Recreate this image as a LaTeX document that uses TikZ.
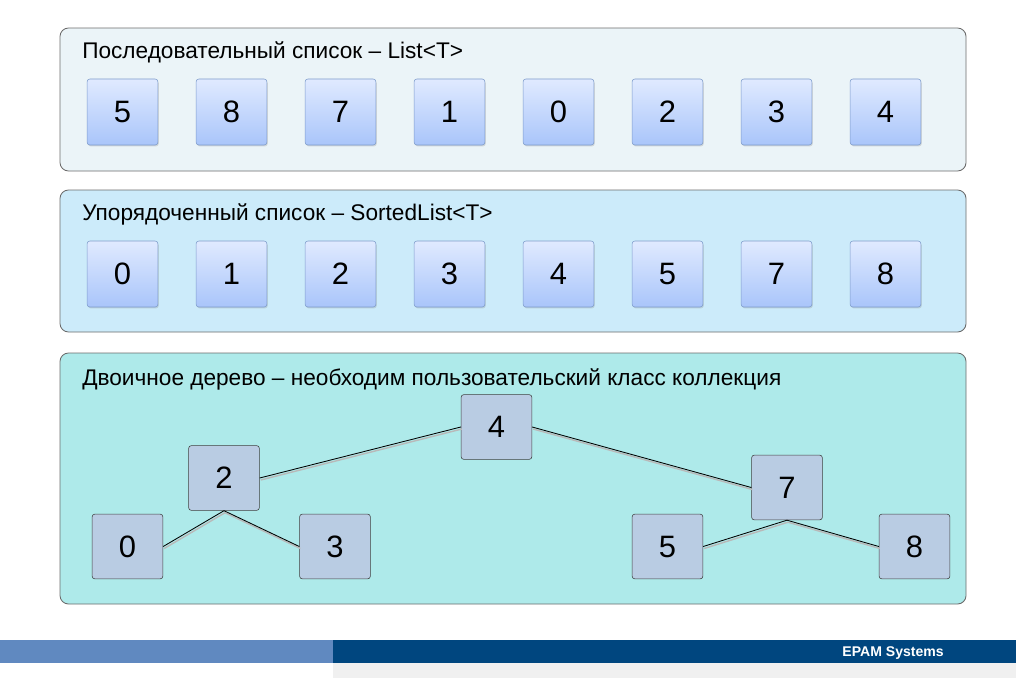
\documentclass[tikz,border=0pt]{standalone}
\usepackage{fontspec}
\setmainfont{Liberation Sans}
\usetikzlibrary{shadows}
\definecolor{panelA}{HTML}{EBF4F8}
\definecolor{panelB}{HTML}{CCEBFA}
\definecolor{panelC}{HTML}{AEEAEA}
\definecolor{cellTop}{HTML}{E0EAFF}
\definecolor{cellBot}{HTML}{A9C5FA}
\definecolor{cellLine}{HTML}{7E9CCB}
\definecolor{treeFill}{HTML}{B9CCE3}
\definecolor{barLight}{HTML}{6089C0}
\definecolor{barDark}{HTML}{00467F}
\tikzset{
  panel/.style={draw=gray!85!black,rounded corners=6pt,line width=0.6pt},
  title/.style={anchor=base west,inner sep=0pt,font=\fontsize{16.1}{19}\selectfont},
  cell/.style={draw=cellLine,rounded corners=2pt,top color=cellTop,bottom color=cellBot,
    minimum width=1.77cm,minimum height=1.65cm,font=\fontsize{22}{24}\selectfont,
    drop shadow={shadow xshift=0.6pt,shadow yshift=-1pt,opacity=0.25}},
  leaf/.style={draw=black!75,fill=treeFill,rounded corners=2pt,
    minimum width=1.77cm,minimum height=1.62cm,font=\fontsize{22}{24}\selectfont},
  edge/.style={line width=0.6pt,
    preaction={draw,gray!55,line width=1pt,transform canvas={shift={(1,2)}}}}
}
\begin{document}
\begin{tikzpicture}[x=0.025cm,y=-0.025cm]
\useasboundingbox (0,0) rectangle (1016,678);
\fill[white] (0,0) rectangle (1016,678);

\draw[panel,fill=panelA] (60,28) rectangle (966,171);
\draw[panel,fill=panelB] (60,190) rectangle (966,332);
\draw[panel,fill=panelC] (60,353) rectangle (966,604);

\node[title] (Ttl1) at (82,58) {Последовательный список – List<T>};
\node[title] (Ttl2) at (82,220) {Упорядоченный список – SortedList<T>};
\node[title] (Ttl3) at (82,385) {Двоичное дерево – необходим пользовательский класс коллекция};

\foreach \v [count=\i] in {5,8,7,1,0,2,3,4}
  \node[cell] (L\i) at (122.5+109*\i-109,112) {\v};
\foreach \v [count=\i] in {0,1,2,3,4,5,7,8}
  \node[cell] (S\i) at (122.5+109*\i-109,274) {\v};

\node[leaf] (T4) at (496.5,427) {4};
\node[leaf] (T2) at (224,478) {2};
\node[leaf] (T7) at (787,487.5) {7};
\node[leaf] (T0) at (127.5,546.5) {0};
\node[leaf] (T3) at (335,546.5) {3};
\node[leaf] (T5) at (667.5,546.5) {5};
\node[leaf] (T8) at (914.5,546.5) {8};
\draw[edge] (T2.east) -- (T4.west);
\draw[edge] (T4.east) -- (T7.west);
\draw[edge] (T2.south) -- (T0.east);
\draw[edge] (T2.south) -- (T3.west);
\draw[edge] (T7.south) -- (T5.east);
\draw[edge] (T7.south) -- (T8.west);

\fill[barLight] (0,640) rectangle (333,663);
\fill[barDark] (333,640) rectangle (1016,663);
\fill[black!6] (333,663) rectangle (1016,678);
\node[anchor=east,text=white,font=\bfseries\fontsize{10}{12}\selectfont,inner sep=0pt] (Epam) at (944,653) {EPAM Systems};
\end{tikzpicture}
\end{document}
